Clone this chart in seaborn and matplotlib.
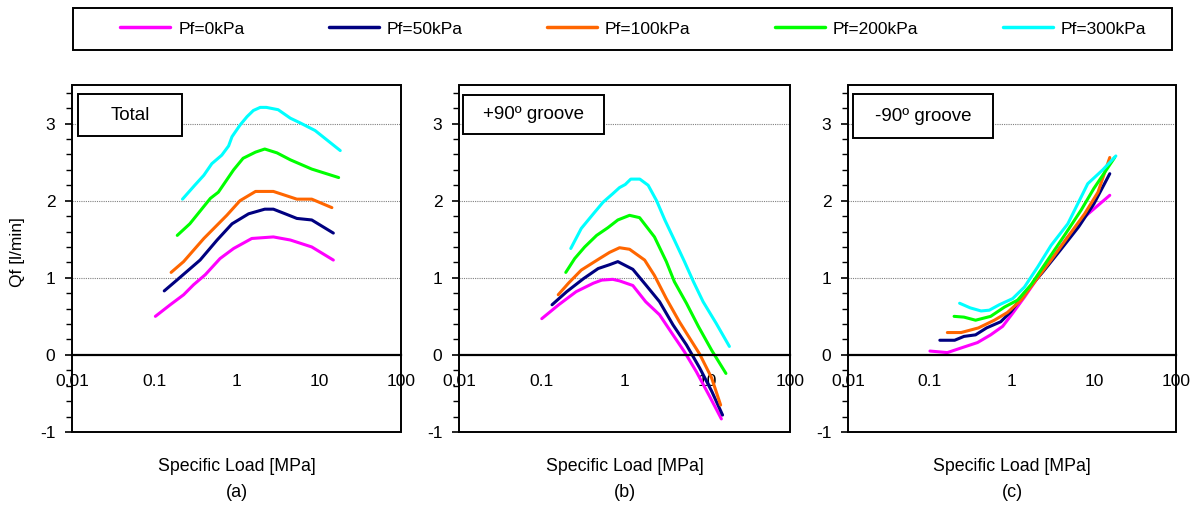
import numpy as np
import pandas as pd
import matplotlib
matplotlib.use("Agg")
import matplotlib.pyplot as plt
from matplotlib.patches import Rectangle
from matplotlib.ticker import LogLocator, FixedLocator, NullFormatter, MultipleLocator
import seaborn as sns

# ---------------- data ----------------
series_names = ["Pf=0kPa", "Pf=50kPa", "Pf=100kPa", "Pf=200kPa", "Pf=300kPa"]
series_colors = ["#FF00FF", "#000080", "#FF6600", "#00FF00", "#00FFFF"]
panel_titles = ["Total", "+90\u00ba groove", "-90\u00ba groove"]
panel_letters = ["(a)", "(b)", "(c)"]
x_tick_values = [0.01, 0.1, 1, 10, 100]
x_tick_labels = ["0.01", "0.1", "1", "10", "100"]
y_tick_values = [-1, 0, 1, 2, 3]

# Panel (a) Total
a_x0 = [0.103, 0.156, 0.227, 0.30, 0.416, 0.63, 0.92, 1.53, 2.8, 4.5, 8.2, 15]
a_y0 = [0.50, 0.65, 0.78, 0.91, 1.04, 1.25, 1.38, 1.51, 1.53, 1.49, 1.40, 1.23]
a_x50 = [0.132, 0.188, 0.36, 0.58, 0.88, 1.4, 2.2, 2.8, 3.9, 5.4, 8.2, 15]
a_y50 = [0.83, 0.97, 1.23, 1.49, 1.70, 1.83, 1.89, 1.89, 1.83, 1.77, 1.75, 1.58]
a_x100 = [0.16, 0.227, 0.4, 0.76, 1.1, 1.7, 2.8, 5.4, 8.2, 14.4]
a_y100 = [1.07, 1.21, 1.51, 1.81, 2.00, 2.12, 2.12, 2.02, 2.02, 1.91]
a_x200 = [0.19, 0.27, 0.48, 0.6, 0.92, 1.2, 1.7, 2.2, 3.1, 4.5, 8.2, 17.4]
a_y200 = [1.55, 1.70, 2.03, 2.11, 2.40, 2.55, 2.63, 2.67, 2.62, 2.53, 2.41, 2.30]
a_x300 = [0.22, 0.31, 0.4, 0.5, 0.66, 0.8, 0.88, 1.1, 1.34, 1.6, 1.94, 2.3, 3.2, 4.5, 5.9, 9.0, 18.2]
a_y300 = [2.02, 2.20, 2.33, 2.48, 2.59, 2.71, 2.83, 2.98, 3.09, 3.17, 3.21, 3.21, 3.18, 3.07, 3.01, 2.91, 2.65]

# Panel (b) +90 groove
b_x0 = [0.1, 0.16, 0.26, 0.42, 0.53, 0.72, 0.87, 1.26, 1.8, 2.65, 3.85, 5.3, 7.4, 10.7, 14.8]
b_y0 = [0.47, 0.65, 0.82, 0.93, 0.97, 0.98, 0.96, 0.90, 0.69, 0.52, 0.26, 0.04, -0.22, -0.54, -0.83]
b_x50 = [0.133, 0.2, 0.32, 0.48, 0.66, 0.83, 1.26, 1.8, 2.65, 3.85, 5.6, 8.1, 11.3, 15.3]
b_y50 = [0.65, 0.82, 0.99, 1.12, 1.17, 1.21, 1.11, 0.91, 0.69, 0.39, 0.13, -0.17, -0.47, -0.78]
b_x100 = [0.158, 0.21, 0.30, 0.5, 0.66, 0.87, 1.15, 1.75, 2.3, 3.2, 4.6, 6.1, 8.1, 11.3, 14.5]
b_y100 = [0.78, 0.93, 1.10, 1.25, 1.33, 1.39, 1.37, 1.23, 1.03, 0.73, 0.43, 0.22, 0.01, -0.30, -0.65]
b_x200 = [0.195, 0.25, 0.33, 0.46, 0.63, 0.83, 1.15, 1.52, 2.3, 3.2, 4.0, 5.6, 7.8, 11.3, 16.8]
b_y200 = [1.07, 1.25, 1.40, 1.55, 1.65, 1.75, 1.81, 1.78, 1.53, 1.21, 0.95, 0.67, 0.37, 0.06, -0.24]
b_x300 = [0.224, 0.30, 0.42, 0.55, 0.72, 0.87, 1.02, 1.19, 1.53, 1.93, 2.44, 3.07, 4.0, 5.3, 6.8, 8.9, 12.8, 18.5]
b_y300 = [1.38, 1.64, 1.83, 1.98, 2.09, 2.17, 2.21, 2.28, 2.28, 2.20, 2.00, 1.75, 1.49, 1.21, 0.95, 0.69, 0.41, 0.11]

# Panel (c) -90 groove
c_x0 = [0.1, 0.163, 0.24, 0.38, 0.55, 0.77, 1.02, 1.42, 1.97, 3.0, 4.8, 7.7, 15.6]
c_y0 = [0.05, 0.03, 0.09, 0.16, 0.26, 0.37, 0.54, 0.75, 0.97, 1.23, 1.53, 1.79, 2.07]
c_x50 = [0.132, 0.2, 0.26, 0.36, 0.49, 0.73, 0.97, 1.42, 2.4, 3.9, 6.5, 10, 15.6]
c_y50 = [0.19, 0.19, 0.24, 0.26, 0.35, 0.43, 0.56, 0.80, 1.08, 1.36, 1.66, 1.96, 2.35]
c_x100 = [0.163, 0.24, 0.39, 0.61, 0.88, 1.29, 1.84, 3.0, 4.8, 7.7, 11.2, 15.6]
c_y100 = [0.29, 0.29, 0.35, 0.45, 0.55, 0.71, 0.93, 1.23, 1.53, 1.83, 2.11, 2.56]
c_x200 = [0.197, 0.26, 0.36, 0.55, 0.81, 1.17, 1.71, 2.73, 4.37, 7.0, 10, 17.9]
c_y200 = [0.50, 0.49, 0.45, 0.50, 0.62, 0.71, 0.91, 1.23, 1.55, 1.88, 2.16, 2.56]
c_x300 = [0.23, 0.31, 0.42, 0.53, 0.7, 1.02, 1.42, 2.06, 3.0, 4.8, 8.4, 12.8, 18.5]
c_y300 = [0.67, 0.61, 0.57, 0.58, 0.65, 0.73, 0.88, 1.14, 1.42, 1.70, 2.22, 2.40, 2.58]

panels = [
    [(a_x0, a_y0), (a_x50, a_y50), (a_x100, a_y100), (a_x200, a_y200), (a_x300, a_y300)],
    [(b_x0, b_y0), (b_x50, b_y50), (b_x100, b_y100), (b_x200, b_y200), (b_x300, b_y300)],
    [(c_x0, c_y0), (c_x50, c_y50), (c_x100, c_y100), (c_x200, c_y200), (c_x300, c_y300)],
]

# ---------------- style ----------------
sns.set_style("white")
plt.rcParams["font.family"] = ["Liberation Sans", "DejaVu Sans"]
plt.rcParams["text.color"] = "black"
plt.rcParams["xtick.color"] = "black"
plt.rcParams["ytick.color"] = "black"
plt.rcParams["axes.labelcolor"] = "black"

fig = plt.figure(figsize=(11.97, 5.07), dpi=100)
ax_rects = [
    [0.0602, 0.1479, 0.2749, 0.6844],
    [0.3835, 0.1479, 0.2765, 0.6844],
    [0.7084, 0.1479, 0.2740, 0.6844],
]
# title boxes in axes fraction: (x0, y0, x1, y1)
title_boxes = [
    (0.018, 0.853, 0.334, 0.974),
    (0.012, 0.860, 0.438, 0.971),
    (0.015, 0.846, 0.442, 0.974),
]
palette = dict(zip(series_names, series_colors))

handles = None
for i, rect in enumerate(ax_rects):
    ax = fig.add_axes(rect)
    rows = []
    for name, (xs, ys) in zip(series_names, panels[i]):
        for k, (xv, yv) in enumerate(zip(xs, ys)):
            rows.append({"x": xv, "y": yv, "series": name, "order": k})
    df = pd.DataFrame(rows)
    sns.lineplot(data=df, x="x", y="y", hue="series", palette=palette,
                 hue_order=series_names, sort=False, estimator=None,
                 units="series", linewidth=2.2, ax=ax, legend=(i == 0))
    if i == 0:
        handles, labels = ax.get_legend_handles_labels()
        ax.get_legend().remove()

    ax.set_xscale("log")
    ax.set_xlim(0.01, 100)
    ax.set_ylim(-1, 3.5)

    # grid
    for gy in [1, 2, 3]:
        ax.axhline(gy, color="#808080", lw=0.8, ls=(0, (1, 1)), zorder=0)

    # spines: bottom spine moved to y=0, frame drawn separately
    ax.spines["bottom"].set_position(("data", 0))
    ax.spines["bottom"].set_linewidth(1.6)
    ax.spines["bottom"].set_color("black")
    for s in ["top", "right", "left"]:
        ax.spines[s].set_visible(False)
    ax.add_patch(Rectangle((0, 0), 1, 1, transform=ax.transAxes, fill=False,
                           edgecolor="black", lw=1.4, clip_on=False, zorder=5))

    ax.xaxis.set_major_locator(FixedLocator(x_tick_values))
    ax.set_xticklabels(x_tick_labels)
    ax.xaxis.set_minor_locator(LogLocator(base=10, subs=np.arange(2, 10)))
    ax.xaxis.set_minor_formatter(NullFormatter())
    ax.tick_params(axis="x", which="major", direction="inout", length=8, width=1.4,
                   labelsize=12.5, pad=10, color="black", labelcolor="black")
    ax.tick_params(axis="x", which="minor", direction="out", length=3.5, width=1.2,
                   color="black")

    ax.yaxis.set_major_locator(FixedLocator(y_tick_values))
    ax.set_yticklabels([str(v) for v in y_tick_values])
    ax.yaxis.set_minor_locator(MultipleLocator(0.2))
    ax.tick_params(axis="y", which="major", direction="out", length=5, width=1.2,
                   labelsize=12.5, color="black", labelcolor="black", left=True, pad=7)
    ax.tick_params(axis="y", which="minor", direction="out", length=4, width=1.0,
                   color="black", left=True)

    ax.set_xlabel("")
    ax.set_ylabel("")

    ax.text(0.5, -0.10, "Specific Load [MPa]", transform=ax.transAxes,
            ha="center", va="center", fontsize=12.8, color="black")
    ax.text(0.5, -0.175, panel_letters[i], transform=ax.transAxes,
            ha="center", va="center", fontsize=13, color="black")

    # title box
    x0, y0, x1, y1 = title_boxes[i]
    ax.add_patch(Rectangle((x0, y0), x1 - x0, y1 - y0, transform=ax.transAxes,
                           facecolor="white", edgecolor="black", lw=1.4, zorder=6))
    ax.text((x0 + x1) / 2, (y0 + y1) / 2, panel_titles[i], transform=ax.transAxes,
            ha="center", va="center", fontsize=13.5, zorder=7, color="black")

    if i == 0:
        fig.text(0.015, 0.503, "Qf [l/min]", rotation=90, ha="center", va="center",
                 fontsize=12.5, color="black")

# legend frame
fig.add_artist(Rectangle((73 / 1197, 1 - 50 / 507), 1099 / 1197, 42 / 507,
                         transform=fig.transFigure, fill=False, edgecolor="black",
                         lw=1.4))
leg = fig.legend(handles, series_names, loc="center",
                 bbox_to_anchor=(0.529, 1 - 29 / 507),
                 ncol=5, frameon=False, handlelength=2.9, fontsize=12.5,
                 borderaxespad=0.0, handletextpad=0.45, columnspacing=4.85)
for t in leg.get_texts():
    t.set_color("black")
for h in leg.get_lines():
    h.set_linewidth(2.5)

fig.savefig("out.png", dpi=100)
